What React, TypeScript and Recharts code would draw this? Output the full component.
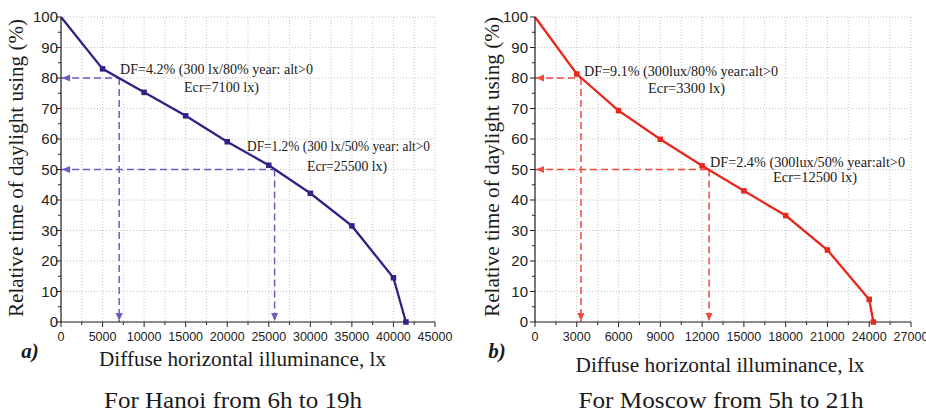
import React from 'react';
import {
  LineChart,
  Line,
  XAxis,
  YAxis,
  CartesianGrid,
  ReferenceLine,
  ReferenceDot,
} from 'recharts';

// Hanoi (a): diffuse illuminance, lx -> relative time of daylight using, %
const hanoiLux = [0, 5000, 10000, 15000, 20000, 25000, 30000, 35000, 40000, 41500];
const hanoiTime = [100, 83, 75.3, 67.6, 59.1, 51.4, 42.2, 31.5, 14.5, 0];
const hanoiCritLux = [7000, 25700];
const hanoiCritTime = [80, 50];
const hanoiTicks = [0, 5000, 10000, 15000, 20000, 25000, 30000, 35000, 40000, 45000];

// Moscow (b)
const moscowLux = [0, 3000, 6000, 9000, 12000, 15000, 18000, 21000, 24000, 24300];
const moscowTime = [100, 81.3, 69.3, 59.9, 51.2, 43.0, 34.9, 23.6, 7.4, 0];
const moscowCritLux = [3300, 12500];
const moscowCritTime = [80, 50];
const moscowTicks = [0, 3000, 6000, 9000, 12000, 15000, 18000, 21000, 24000, 27000];

const timeTicks = [0, 10, 20, 30, 40, 50, 60, 70, 80, 90, 100];

const SERIF = "'Liberation Serif', 'Times New Roman', serif";
const SANS = "'Liberation Sans', Arial, sans-serif";

function withMinor(majors: number[]) {
  const step = majors[1] - majors[0];
  const out: number[] = [];
  majors.forEach((t, i) => {
    out.push(t);
    if (i < majors.length - 1) out.push(t + step / 2);
  });
  return out;
}

function Panel({
  lux,
  time,
  critLux,
  critTime,
  majors,
  color,
  dashColor,
  width,
  yAxisWidth,
  rightMargin,
  labelGap,
}: any) {
  const data = lux.map((e: number, i: number) => ({ e, p: time[i] }));
  const xAll = withMinor(majors);
  const yAll = withMinor(timeTicks);
  const domain = [majors[0], majors[majors.length - 1]];
  const isMajorX = (v: number) => majors.includes(v);
  const isMajorY = (v: number) => timeTicks.includes(v);

  const bottomTick = (p: any) => {
    const v = p.payload.value;
    const major = isMajorX(v);
    return (
      <g key={'b' + v}>
        <line x1={p.x} x2={p.x} y1={p.y} y2={p.y + (major ? 5 : 3)} stroke="#222" strokeWidth={1} />
        {major && (
          <text x={p.x} y={p.y + 19} textAnchor="middle" fontSize={12.5} style={{ fontFamily: SANS }} fill="#222">
            {v}
          </text>
        )}
      </g>
    );
  };
  const topTick = (p: any) => {
    const major = isMajorX(p.payload.value);
    return (
      <line key={'t' + p.payload.value} x1={p.x} x2={p.x} y1={p.y} y2={p.y + (major ? 5 : 3)} stroke="#222" strokeWidth={1} />
    );
  };
  const leftTick = (p: any) => {
    const v = p.payload.value;
    const major = isMajorY(v);
    return (
      <g key={'l' + v}>
        <line x1={p.x} x2={p.x - (major ? 5 : 3)} y1={p.y} y2={p.y} stroke="#222" strokeWidth={1} />
        {major && (
          <text x={p.x - labelGap} y={p.y + 5} textAnchor="end" fontSize={15} style={{ fontFamily: SANS }} fill="#222">
            {v}
          </text>
        )}
      </g>
    );
  };
  const rightTick = (p: any) => {
    const major = isMajorY(p.payload.value);
    return (
      <line key={'r' + p.payload.value} x1={p.x} x2={p.x - (major ? 5 : 3)} y1={p.y} y2={p.y} stroke="#666" strokeWidth={1} />
    );
  };

  const square = (p: any) => {
    if (p.index === 0) return <g key={'d' + p.index} />;
    return <rect key={'d' + p.index} x={p.cx - 2.75} y={p.cy - 2.75} width={5.5} height={5.5} fill={color} />;
  };

  return (
    <LineChart width={width} height={415} data={data} margin={{ top: 17, right: rightMargin, bottom: 63, left: 0 }}>
      <CartesianGrid stroke="#c4c4c4" strokeDasharray="1 2" verticalValues={xAll} horizontalValues={timeTicks} />
      <XAxis
        dataKey="e"
        type="number"
        domain={domain}
        ticks={xAll}
        interval={0}
        height={30}
        tickSize={0}
        tickMargin={0}
        tickLine={false}
        axisLine={{ stroke: '#222', strokeWidth: 1.2 }}
        tick={bottomTick}
      />
      <XAxis
        xAxisId="top"
        orientation="top"
        dataKey="e"
        type="number"
        domain={domain}
        ticks={xAll}
        interval={0}
        height={0}
        tickSize={0}
        tickMargin={0}
        tickLine={false}
        axisLine={{ stroke: '#222', strokeWidth: 1.2 }}
        tick={topTick}
      />
      <YAxis
        type="number"
        domain={[0, 100]}
        ticks={yAll}
        interval={0}
        width={yAxisWidth}
        tickSize={0}
        tickMargin={0}
        tickLine={false}
        axisLine={{ stroke: '#222', strokeWidth: 1.2 }}
        tick={leftTick}
      />
      <YAxis
        yAxisId="right"
        orientation="right"
        type="number"
        domain={[0, 100]}
        ticks={yAll}
        interval={0}
        width={0}
        tickSize={0}
        tickMargin={0}
        tickLine={false}
        axisLine={{ stroke: '#707070', strokeWidth: 2 }}
        tick={rightTick}
      />
      {critLux.map((cx: number, i: number) => (
        <ReferenceLine
          key={'h' + i}
          segment={[{ x: 0, y: critTime[i] }, { x: cx, y: critTime[i] }]}
          stroke={dashColor}
          strokeWidth={1.5}
          strokeDasharray="7 4"
        />
      ))}
      {critLux.map((cx: number, i: number) => (
        <ReferenceLine
          key={'v' + i}
          segment={[{ x: cx, y: critTime[i] }, { x: cx, y: 0 }]}
          stroke={dashColor}
          strokeWidth={1.5}
          strokeDasharray="7 4"
        />
      ))}
      {critTime.map((t: number, i: number) => (
        <ReferenceDot
          key={'al' + i}
          x={0}
          y={t}
          shape={(p: any) => (
            <path d={`M${p.cx + 1},${p.cy} L${p.cx + 9},${p.cy - 3.5} L${p.cx + 9},${p.cy + 3.5} Z`} fill={dashColor} />
          )}
        />
      ))}
      {critLux.map((cx: number, i: number) => (
        <ReferenceDot
          key={'ad' + i}
          x={cx}
          y={0}
          shape={(p: any) => (
            <path d={`M${p.cx},${p.cy - 1} L${p.cx - 3.5},${p.cy - 9} L${p.cx + 3.5},${p.cy - 9} Z`} fill={dashColor} />
          )}
        />
      ))}
      <Line
        dataKey="p"
        type="linear"
        stroke={color}
        strokeWidth={2.3}
        dot={square}
        activeDot={false}
        isAnimationActive={false}
      />
    </LineChart>
  );
}

function T({ x, y, w, size, children, anchor = 'start', weight, italic }: any) {
  return (
    <text
      x={x}
      y={y}
      textAnchor={anchor}
      fontSize={size}
      style={{ fontFamily: SERIF, fontWeight: weight, fontStyle: italic ? 'italic' : 'normal' }}
      fill="#1a1a1a"
      textLength={w}
      lengthAdjust="spacingAndGlyphs"
    >
      {children}
    </text>
  );
}

export default function App() {
  return (
    <div style={{ position: 'absolute', left: 0, top: 0, width: 926, height: 415, background: '#fff' }}>
      <div style={{ position: 'absolute', left: 0, top: 0 }}>
        <Panel
          lux={hanoiLux}
          time={hanoiTime}
          critLux={hanoiCritLux}
          critTime={hanoiCritTime}
          majors={hanoiTicks}
          color="#2d2384"
          dashColor="#6a5cc2"
          width={460}
          yAxisWidth={61}
          rightMargin={25}
          labelGap={3}
        />
      </div>
      <div style={{ position: 'absolute', left: 460, top: 0 }}>
        <Panel
          lux={moscowLux}
          time={moscowTime}
          critLux={moscowCritLux}
          critTime={moscowCritTime}
          majors={moscowTicks}
          color="#e8271d"
          dashColor="#ee4a3e"
          width={466}
          yAxisWidth={75}
          rightMargin={15}
          labelGap={7}
        />
      </div>
      <svg width={926} height={415} style={{ position: 'absolute', left: 0, top: 0, pointerEvents: 'none' }}>
        <g transform="translate(22.5,168) rotate(-90)">
          <T x={0} y={0} w={298} size={21} anchor="middle">Relative time of daylight using (%)</T>
        </g>
        <g transform="translate(498.5,167) rotate(-90)">
          <T x={0} y={0} w={300} size={21} anchor="middle">Relative time of daylight using (%)</T>
        </g>

        <T x={120} y={74} w={193} size={14.5}>DF=4.2% (300 lx/80% year: alt&gt;0</T>
        <T x={184} y={92} w={75} size={14.5}>Ecr=7100 lx)</T>
        <T x={247} y={151} w={183} size={14.5}>DF=1.2% (300 lx/50% year: alt&gt;0</T>
        <T x={307} y={171} w={80} size={14.5}>Ecr=25500 lx)</T>

        <T x={584} y={76} w={194} size={14.5}>DF=9.1% (300lux/80% year:alt&gt;0</T>
        <T x={648} y={93} w={77} size={14.5}>Ecr=3300 lx)</T>
        <T x={710} y={167} w={195} size={14.5}>DF=2.4% (300lux/50% year:alt&gt;0</T>
        <T x={773} y={182} w={84} size={14.5}>Ecr=12500 lx)</T>

        <T x={30} y={358} size={21} anchor="middle" weight="bold" italic>a)</T>
        <T x={497} y={358} size={21} anchor="middle" weight="bold" italic>b)</T>

        <T x={242.5} y={366} w={287} size={20} anchor="middle">Diffuse horizontal illuminance, lx</T>
        <T x={720} y={372} w={289} size={20} anchor="middle">Diffuse horizontal illuminance, lx</T>

        <T x={233} y={408} w={258} size={23} anchor="middle">For Hanoi from 6h to 19h</T>
        <T x={721} y={408} w={285} size={23} anchor="middle">For Moscow from 5h to 21h</T>
      </svg>
    </div>
  );
}
